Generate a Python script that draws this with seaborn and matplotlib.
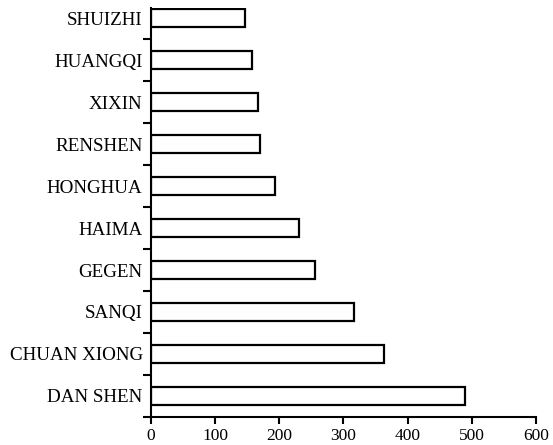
import numpy as np
import pandas as pd
import matplotlib
matplotlib.use("Agg")
import matplotlib.pyplot as plt
import seaborn as sns

# data (top to bottom)
herbs = ["SHUIZHI", "HUANGQI", "XIXIN", "RENSHEN", "HONGHUA",
         "HAIMA", "GEGEN", "SANQI", "CHUAN XIONG", "DAN SHEN"]
counts = [147, 158, 167, 170, 194, 231, 256, 317, 363, 490]
x_ticks = [0, 100, 200, 300, 400, 500, 600]

df = pd.DataFrame({"herb": herbs, "count": counts})

sns.set_style("ticks")
plt.rcParams["font.family"] = ["Liberation Serif", "DejaVu Serif"]
plt.rcParams["font.size"] = 12
plt.rcParams["text.color"] = "black"
plt.rcParams["xtick.labelcolor"] = "black"
plt.rcParams["ytick.labelcolor"] = "black"

fig = plt.figure(figsize=(5.53, 4.45), dpi=100)
ax = fig.add_axes([0.273, 0.063, 0.696, 0.919])

sns.barplot(data=df, x="count", y="herb", order=herbs, orient="h",
            color="white", edgecolor="black", linewidth=1.6, width=0.42,
            saturation=1, ax=ax)

ax.set_xlim(0, 600)
ax.set_xticks(x_ticks)
ax.set_ylim(len(herbs) - 0.5, -0.24)
ax.set_xlabel("")
ax.set_ylabel("")

# ticks between categories on the left axis, none at the labels
ax.set_yticks(np.arange(len(herbs)) + 0.5, minor=True)
ax.tick_params(axis="y", which="major", length=0, pad=6, labelsize=13.7,
               labelcolor="black")
ax.tick_params(axis="y", which="minor", length=6, width=1.5, color="black")
ax.tick_params(axis="x", length=5, width=1.5, pad=3, labelsize=12.5,
               color="black", labelcolor="black")

for s in ["top", "right"]:
    ax.spines[s].set_visible(False)
for s in ["left", "bottom"]:
    ax.spines[s].set_linewidth(1.5)
    ax.spines[s].set_color("black")

fig.savefig("out.png", dpi=100)
